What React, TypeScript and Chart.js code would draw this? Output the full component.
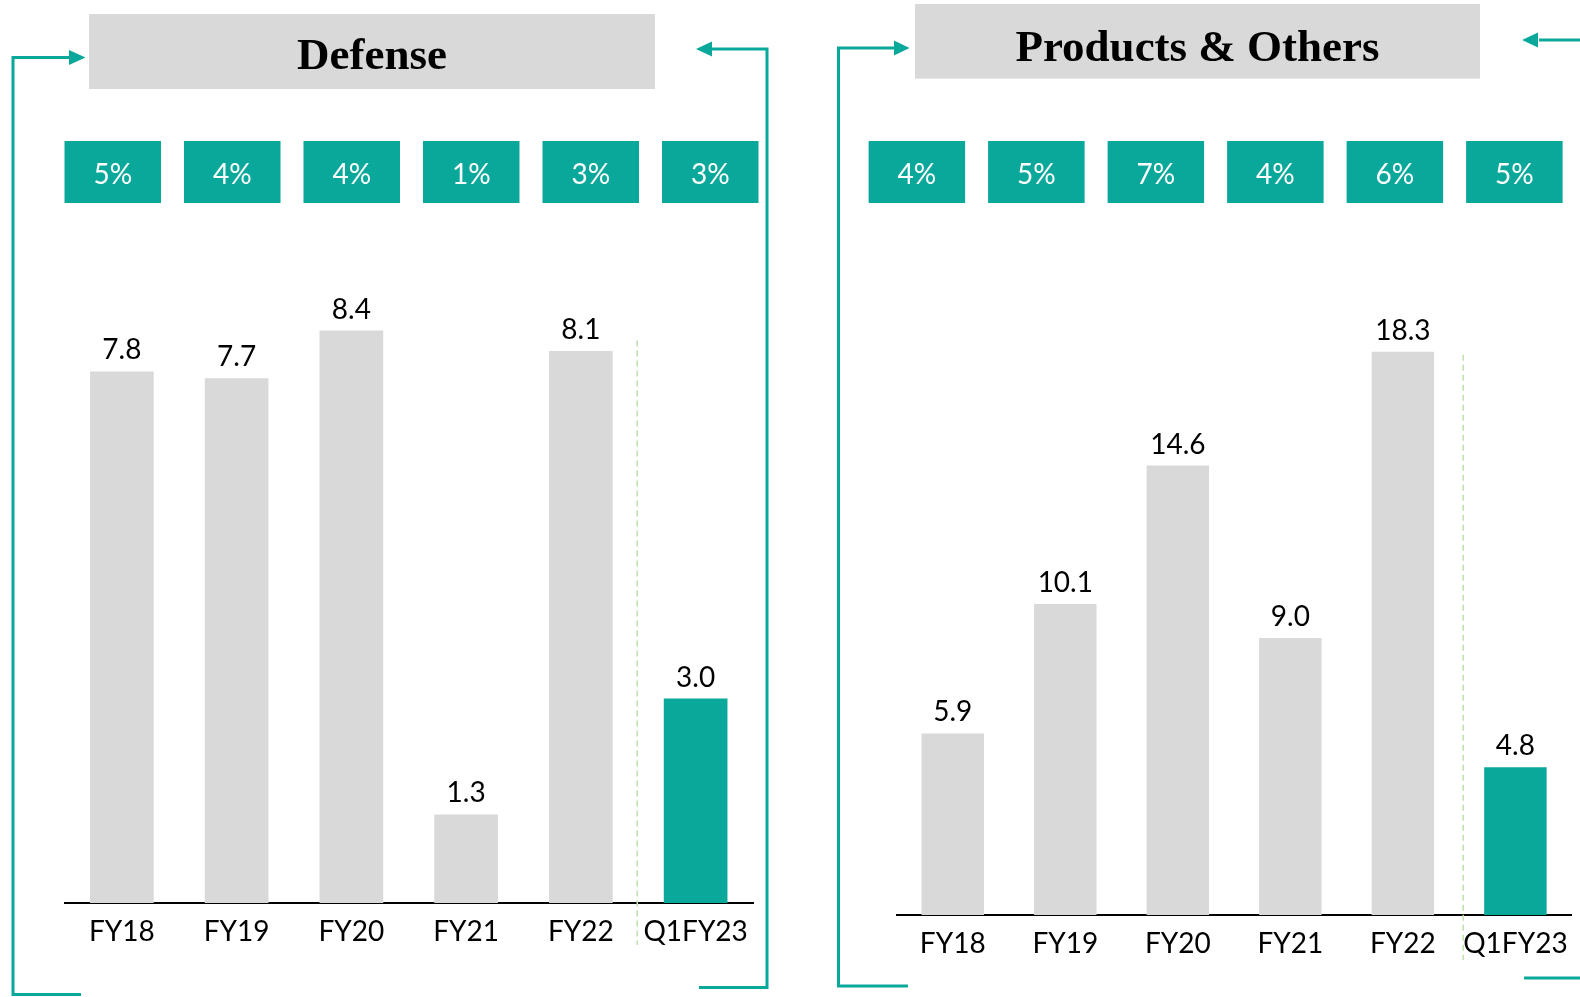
import React, { useEffect, useRef } from "react";
import { Chart, registerables } from "chart.js";

Chart.register(...registerables);

const categories = ["FY18", "FY19", "FY20", "FY21", "FY22", "Q1FY23"];
const defenseValues = [7.8, 7.7, 8.4, 1.3, 8.1, 3.0];
const defenseGrowth = ["5%", "4%", "4%", "1%", "3%", "3%"];
const productsValues = [5.9, 10.1, 14.6, 9.0, 18.3, 4.8];
const productsGrowth = ["4%", "5%", "7%", "4%", "6%", "5%"];

const TEAL = "#0AA89B";
const GREY = "#D9D9D9";
const DASH = "#BFE0AC";
const FONT = "Lato, 'Noto Sans', sans-serif";
const TITLE_FONT = "'Liberation Serif', 'DejaVu Serif', serif";

type Pt = [number, number];
type Arrow = { tip: number; base: number; y: number; half: number };

type PanelCfg = {
  title: string;
  values: number[];
  growth: string[];
  yMax: number;
  padding: { left: number; right: number; top: number };
  axisHeight: number;
  titleBox: { x: number; y: number; w: number; h: number; baseline: number };
  boxes: { x0: number; step: number; w: number; y: number; h: number; baseline: number };
  dash: { top: number; bottom: number; dx: number };
  paths: Pt[][];
  arrows: Arrow[];
};

const defenseCfg: PanelCfg = {
  title: "Defense",
  values: defenseValues,
  growth: defenseGrowth,
  yMax: 10,
  padding: { left: 64.5, right: 37, top: 221.5 },
  axisHeight: 94,
  titleBox: { x: 89, y: 14, w: 566, h: 75, baseline: 68.5 },
  boxes: { x0: 64.5, step: 119.5, w: 96.5, y: 141, h: 62, baseline: 184 },
  dash: { top: 340.6, bottom: 945, dx: -1 },
  paths: [
    [[70, 57.5], [13, 57.5], [13, 994.5], [81, 994.5]],
    [[712, 49], [767, 49], [767, 987.5], [699, 987.5]],
  ],
  arrows: [
    { tip: 85.5, base: 69, y: 57.5, half: 7.5 },
    { tip: 696, base: 712, y: 49, half: 7.5 },
  ],
};

const productsCfg: PanelCfg = {
  title: "Products & Others",
  values: productsValues,
  growth: productsGrowth,
  yMax: 20,
  padding: { left: 106.5, right: 4.5, top: 299.4 },
  axisHeight: 82,
  titleBox: { x: 125, y: 4, w: 565, h: 74.6, baseline: 60.5 },
  boxes: { x0: 78.6, step: 119.5, w: 96.5, y: 141, h: 62, baseline: 184 },
  dash: { top: 354.7, bottom: 960, dx: 4 },
  paths: [
    [[104.5, 48], [48.5, 48], [48.5, 986], [118, 986]],
    [[749, 40], [792, 40]],
    [[734, 978], [792, 978]],
  ],
  arrows: [
    { tip: 119.5, base: 104, y: 48, half: 7.5 },
    { tip: 732, base: 748, y: 40, half: 7.5 },
  ],
};

function makeDecor(cfg: PanelCfg) {
  return {
    id: "decor",
    beforeDraw(chart: any) {
      const ctx = chart.ctx as CanvasRenderingContext2D;
      ctx.save();
      const t = cfg.titleBox;
      ctx.fillStyle = GREY;
      ctx.fillRect(t.x, t.y, t.w, t.h);
      ctx.fillStyle = "#000";
      ctx.font = `bold 45px ${TITLE_FONT}`;
      ctx.textAlign = "center";
      ctx.textBaseline = "alphabetic";
      ctx.fillText(cfg.title, t.x + t.w / 2, t.baseline);
      const b = cfg.boxes;
      cfg.growth.forEach((g, i) => {
        const x = b.x0 + i * b.step;
        ctx.fillStyle = TEAL;
        ctx.fillRect(x, b.y, b.w, b.h);
        ctx.fillStyle = "#fff";
        ctx.font = `28px ${FONT}`;
        ctx.fillText(g, x + b.w / 2, b.baseline);
      });
      ctx.strokeStyle = TEAL;
      ctx.lineWidth = 3;
      ctx.lineJoin = "miter";
      cfg.paths.forEach((p) => {
        ctx.beginPath();
        p.forEach(([x, y], i) => (i ? ctx.lineTo(x, y) : ctx.moveTo(x, y)));
        ctx.stroke();
      });
      ctx.fillStyle = TEAL;
      cfg.arrows.forEach((a) => {
        ctx.beginPath();
        ctx.moveTo(a.tip, a.y);
        ctx.lineTo(a.base, a.y - a.half);
        ctx.lineTo(a.base, a.y + a.half);
        ctx.closePath();
        ctx.fill();
      });
      ctx.restore();
    },
    afterDatasetsDraw(chart: any) {
      const ctx = chart.ctx as CanvasRenderingContext2D;
      const xs = chart.scales.x;
      ctx.save();
      const sepX = (xs.getPixelForValue(4) + xs.getPixelForValue(5)) / 2 + cfg.dash.dx;
      ctx.strokeStyle = DASH;
      ctx.lineWidth = 1.5;
      ctx.setLineDash([6, 4]);
      ctx.beginPath();
      ctx.moveTo(sepX, cfg.dash.top);
      ctx.lineTo(sepX, cfg.dash.bottom);
      ctx.stroke();
      ctx.setLineDash([]);
      const meta = chart.getDatasetMeta(0);
      ctx.fillStyle = "#000";
      ctx.font = `28px ${FONT}`;
      ctx.textAlign = "center";
      ctx.textBaseline = "alphabetic";
      meta.data.forEach((bar: any, i: number) => {
        ctx.fillText(cfg.values[i].toFixed(1), bar.x, bar.y - 12);
      });
      ctx.restore();
    },
  };
}

function Panel({ cfg, left }: { cfg: PanelCfg; left: number }) {
  const ref = useRef<HTMLCanvasElement>(null);
  useEffect(() => {
    if (!ref.current) return;
    const colors = cfg.values.map((_, i) => (i === cfg.values.length - 1 ? TEAL : GREY));
    const chart = new Chart(ref.current, {
      type: "bar",
      data: {
        labels: categories,
        datasets: [
          {
            data: cfg.values,
            backgroundColor: colors,
            borderWidth: 0,
            barPercentage: 0.555,
            categoryPercentage: 1,
          },
        ],
      },
      options: {
        responsive: false,
        animation: false,
        devicePixelRatio: 1,
        layout: { padding: { left: cfg.padding.left, right: cfg.padding.right, top: cfg.padding.top, bottom: 0 } },
        plugins: { legend: { display: false }, tooltip: { enabled: false }, title: { display: false } },
        scales: {
          x: {
            grid: { display: false, drawTicks: false },
            border: { display: true, color: "#000", width: 2 },
            ticks: { color: "#000", font: { family: FONT, size: 28 }, padding: 12, maxRotation: 0, autoSkip: false },
            afterFit: (axis: any) => {
              axis.height = cfg.axisHeight;
            },
          },
          y: { display: false, min: 0, max: cfg.yMax },
        },
      },
      plugins: [makeDecor(cfg)],
    });
    return () => chart.destroy();
  }, [cfg]);
  return (
    <canvas
      ref={ref}
      width={790}
      height={997}
      style={{ position: "absolute", left, top: 0, width: 790, height: 997 }}
    />
  );
}

export default function App() {
  return (
    <div style={{ position: "fixed", left: 0, top: 0, width: 1580, height: 997, background: "#fff", overflow: "hidden" }}>
      <Panel cfg={defenseCfg} left={0} />
      <Panel cfg={productsCfg} left={790} />
    </div>
  );
}
